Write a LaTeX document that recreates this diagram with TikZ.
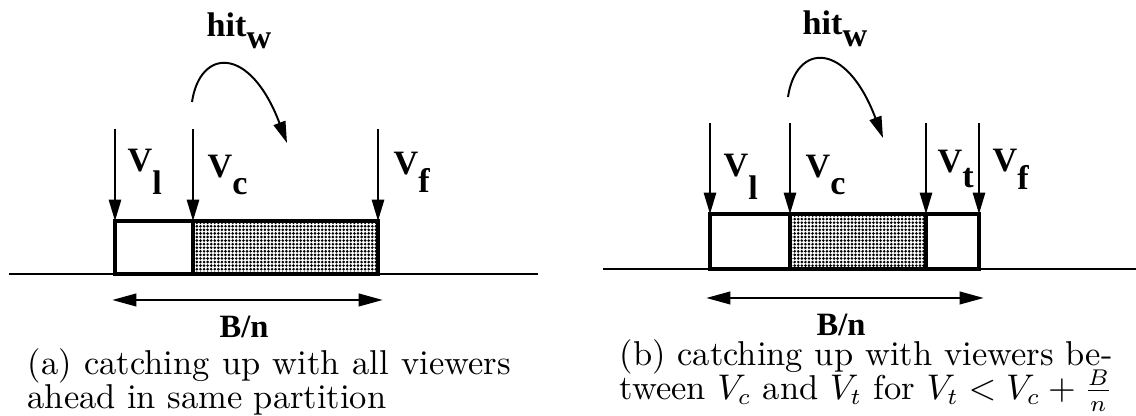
\documentclass[tikz,border=0pt]{standalone}
\usepackage{fontspec}
\newfontfamily\labfont{Liberation Serif}
\usetikzlibrary{arrows.meta,patterns.meta}

\newcommand{\labsub}[3][5pt]{#2\raisebox{-#1}{#3}}
\newcommand{\captext}[2]{\parbox[t]{#1}{\lineskiplimit=-10pt\relax #2}}

\tikzset{
  viewer/.style={-{Triangle[length=6.6pt,width=3.8pt]}, line width=0.6pt},
  span/.style={{Triangle[length=7.5pt,width=3.8pt]}-{Triangle[length=7.5pt,width=3.8pt]}, line width=0.9pt},
  buffer/.style={line width=1pt},
  ground/.style={line width=0.6pt},
  shaded/.style={pattern={Dots[distance=1.1pt,radius=0.45pt]}},
  lab/.style={font=\labfont\bfseries\fontsize{10.5pt}{12pt}\selectfont, inner sep=0pt, anchor=base west},
  caption/.style={inner sep=0pt, anchor=base west, font=\fontsize{10.6pt}{10.2pt}\selectfont}
}

\begin{document}
\begin{tikzpicture}[x=1.08mm, y=1.08mm]
    \useasboundingbox (0,0) rectangle (113.6,41.6);

    % (a) all viewers ahead
    \draw[ground] (0.9,14.2) -- (53.8,14.2);
    \fill[shaded] (19.3,14.2) rectangle (37.8,19.5);
    \draw[buffer] (11.5,14.2) rectangle (37.8,19.5);
    \draw[buffer] (19.3,14.2) -- (19.3,19.5);
    \foreach \x in {11.5,19.3,37.8}
        \draw[viewer] (\x,28.7) -- (\x,19.5);
    \node[lab] (vl-a) at (12.7,24.4) {\labsub[7pt]{V}{l}};
    \node[lab] (vc-a) at (20.7,23.8) {\labsub[5pt]{V}{c}};
    \node[lab] (vf-a) at (39.3,24.1) {\labsub[5.5pt]{V}{f}};
    \node[lab] (hit-a) at (20.6,37.9) {\labsub[3.5pt]{hit}{w}};
    \draw[viewer] (19.2,31.4) .. controls (20.0,36.8) and (25.0,37.1) .. (28.7,27.3);
    \draw[span] (11.2,11.6) -- (38.3,11.6);
    \node[lab, anchor=base, font=\labfont\bfseries\fontsize{10pt}{12pt}\selectfont] (bn-a) at (24.4,7.8) {B/n};
    \node[caption] (cap-a) at (2.7,4.1)
        {\captext{148.5pt}{(a) catching up with all viewers ahead in same partition}};

    % (b) viewers between V_c and V_t
    \draw[ground] (60.3,14.7) -- (113.6,14.7);
    \fill[shaded] (79.0,14.7) rectangle (92.6,20.2);
    \draw[buffer] (71.0,14.7) rectangle (97.9,20.2);
    \foreach \x in {79.0,92.6}
        \draw[buffer] (\x,14.7) -- (\x,20.2);
    \foreach \x in {71.0,79.0,92.6,97.9}
        \draw[viewer] (\x,29.3) -- (\x,20.2);
    \node[lab] (vl-b) at (72.3,23.9) {\labsub[7pt]{V}{l}};
    \node[lab] (vc-b) at (80.5,23.8) {\labsub[5pt]{V}{c}};
    \node[lab] (vt-b) at (93.7,24.3) {\labsub[4.5pt]{V}{t}};
    \node[lab] (vf-b) at (99.2,24.4) {\labsub[5.5pt]{V}{f}};
    \node[lab] (hit-b) at (80.2,38.1) {\labsub[3.5pt]{hit}{w}};
    \draw[viewer] (78.8,31.9) .. controls (79.6,37.3) and (84.6,37.6) .. (88.3,27.8);
    \draw[span] (70.6,11.8) -- (98.4,11.8);
    \node[lab, anchor=base, font=\labfont\bfseries\fontsize{10pt}{12pt}\selectfont] (bn-b) at (84.1,8.0) {B/n};
    \node[caption] (cap-b) at (61.9,5.0)
        {\captext{151.5pt}{(b) catching up with viewers between $V_c$ and $V_t$ for $V_t < V_c + \frac{B}{n}$}};
\end{tikzpicture}
\end{document}
